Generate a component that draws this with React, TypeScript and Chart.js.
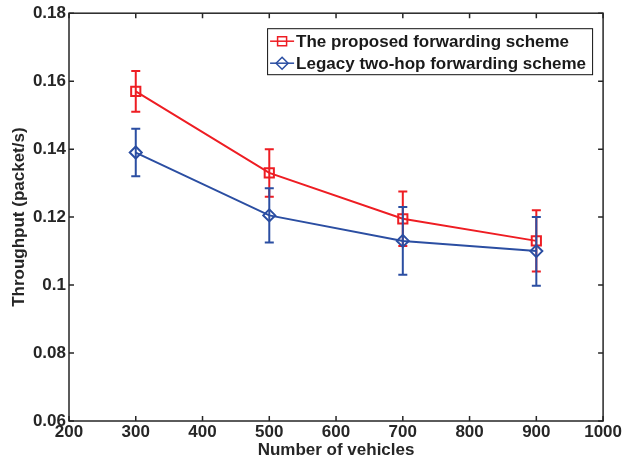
import React, { useEffect, useRef } from 'react';
import { Chart, registerables } from 'chart.js';

Chart.register(...registerables);

const vehicles = [300, 500, 700, 900];
const proposed = [0.157, 0.133, 0.1195, 0.113];
const proposedLow = [0.151, 0.126, 0.1115, 0.104];
const proposedHigh = [0.163, 0.14, 0.1275, 0.122];
const legacy = [0.139, 0.1205, 0.113, 0.11];
const legacyLow = [0.132, 0.1125, 0.103, 0.0998];
const legacyHigh = [0.146, 0.1285, 0.123, 0.12];
const xTicks = [200, 300, 400, 500, 600, 700, 800, 900, 1000];
const yTicks = [0.06, 0.08, 0.1, 0.12, 0.14, 0.16, 0.18];
const seriesNames = ['The proposed forwarding scheme', 'Legacy two-hop forwarding scheme'];

const RED = '#ee1d23';
const BLUE = '#2b4ea2';
const AXIS = '#262626';
const FONT = '"Liberation Sans", Arial, Helvetica, sans-serif';
const FS = 17;

const lows = [proposedLow, legacyLow];
const highs = [proposedHigh, legacyHigh];

const errorBarPlugin = {
  id: 'errorBars',
  afterDatasetDraw(chart: any, args: any) {
    const i = args.index;
    const ds = chart.data.datasets[i];
    const xs = chart.scales.x;
    const ys = chart.scales.y;
    const ctx = chart.ctx;
    ctx.save();
    ctx.strokeStyle = ds.borderColor;
    ctx.lineWidth = 2;
    vehicles.forEach((v, k) => {
      const x = xs.getPixelForValue(v);
      const y1 = ys.getPixelForValue(lows[i][k]);
      const y2 = ys.getPixelForValue(highs[i][k]);
      ctx.beginPath();
      ctx.moveTo(x, y1);
      ctx.lineTo(x, y2);
      ctx.moveTo(x - 4.5, y1);
      ctx.lineTo(x + 4.5, y1);
      ctx.moveTo(x - 4.5, y2);
      ctx.lineTo(x + 4.5, y2);
      ctx.stroke();
    });
    ctx.restore();
  },
};

const frameLegendPlugin = {
  id: 'frameLegend',
  afterDraw(chart: any) {
    const { ctx, chartArea } = chart;
    const { left, right, top, bottom } = chartArea;
    const xs = chart.scales.x;
    const ys = chart.scales.y;
    ctx.save();
    ctx.strokeStyle = AXIS;
    ctx.lineWidth = 1.5;
    ctx.strokeRect(left, top, right - left, bottom - top);
    const tl = 5;
    ctx.beginPath();
    xTicks.forEach((v) => {
      const x = xs.getPixelForValue(v);
      ctx.moveTo(x, bottom);
      ctx.lineTo(x, bottom - tl);
      ctx.moveTo(x, top);
      ctx.lineTo(x, top + tl);
    });
    yTicks.forEach((v) => {
      const y = ys.getPixelForValue(v);
      ctx.moveTo(left, y);
      ctx.lineTo(left + tl, y);
      ctx.moveTo(right, y);
      ctx.lineTo(right - tl, y);
    });
    ctx.stroke();

    // legend
    const bx = right - 336;
    const by = top + 15;
    const bw = 325;
    const bh = 46;
    ctx.fillStyle = '#ffffff';
    ctx.fillRect(bx, by, bw, bh);
    ctx.strokeStyle = '#111';
    ctx.lineWidth = 1;
    ctx.strokeRect(bx + 0.5, by + 0.5, bw, bh);
    ctx.font = `bold ${FS}px ${FONT}`;
    ctx.textBaseline = 'middle';
    ctx.textAlign = 'left';
    const rows = [by + 13, by + 35];
    chart.data.datasets.forEach((ds: any, i: number) => {
      const y = rows[i];
      ctx.strokeStyle = ds.borderColor;
      ctx.lineWidth = 1.5;
      ctx.beginPath();
      ctx.moveTo(bx + 3, y);
      ctx.lineTo(bx + 27, y);
      ctx.stroke();
      const cx = bx + 15;
      ctx.beginPath();
      if (i === 0) {
        ctx.rect(cx - 4.5, y - 4.5, 9, 9);
      } else {
        ctx.moveTo(cx, y - 6);
        ctx.lineTo(cx + 6, y);
        ctx.lineTo(cx, y + 6);
        ctx.lineTo(cx - 6, y);
        ctx.closePath();
      }
      ctx.stroke();
      ctx.fillStyle = '#1a1a1a';
      ctx.fillText(ds.label, bx + 29, y + 1);
    });
    ctx.restore();
  },
};

export default function App() {
  const ref = useRef<HTMLCanvasElement>(null);
  useEffect(() => {
    if (!ref.current) return;
    const chart = new Chart(ref.current, {
      type: 'line',
      data: {
        datasets: [
          {
            label: seriesNames[0],
            data: vehicles.map((v, i) => ({ x: v, y: proposed[i] })),
            borderColor: RED,
            backgroundColor: 'rgba(0,0,0,0)',
            borderWidth: 2,
            pointStyle: 'rect',
            pointRadius: 6.5,
            pointBorderWidth: 2,
            pointBackgroundColor: 'rgba(0,0,0,0)',
            pointBorderColor: RED,
            order: 1,
          },
          {
            label: seriesNames[1],
            data: vehicles.map((v, i) => ({ x: v, y: legacy[i] })),
            borderColor: BLUE,
            backgroundColor: 'rgba(0,0,0,0)',
            borderWidth: 2,
            pointStyle: 'rectRot',
            pointRadius: 6,
            pointBorderWidth: 2,
            pointBackgroundColor: 'rgba(0,0,0,0)',
            pointBorderColor: BLUE,
            order: 0,
          },
        ],
      },
      options: {
        animation: false,
        responsive: false,
        maintainAspectRatio: false,
        layout: { padding: { left: 0, right: 19, top: 12, bottom: 0 } },
        plugins: {
          legend: { display: false },
          tooltip: { enabled: false },
        },
        scales: {
          x: {
            type: 'linear',
            min: 200,
            max: 1000,
            afterFit: (s: any) => {
              s.height = 40;
            },
            afterBuildTicks: (s: any) => {
              s.ticks = xTicks.map((v) => ({ value: v }));
            },
            grid: { display: false, drawTicks: false },
            border: { display: false },
            ticks: {
              padding: 1,
              color: AXIS,
              font: { family: FONT, size: FS, weight: 'bold' },
              maxRotation: 0,
              callback: (v: any) => String(v),
            },
            title: {
              display: true,
              text: 'Number of vehicles',
              color: AXIS,
              font: { family: FONT, size: FS, weight: 'bold' },
              padding: { top: 0, bottom: 0 },
            },
          },
          y: {
            type: 'linear',
            min: 0.06,
            max: 0.18,
            afterFit: (s: any) => {
              s.width = 69;
            },
            afterBuildTicks: (s: any) => {
              s.ticks = yTicks.map((v) => ({ value: v }));
            },
            grid: { display: false, drawTicks: false },
            border: { display: false },
            ticks: {
              padding: 3,
              color: AXIS,
              font: { family: FONT, size: FS, weight: 'bold' },
              callback: (v: any) => String(Number(Number(v).toFixed(2))),
            },
            title: {
              display: true,
              text: 'Throughput (packet/s)',
              color: AXIS,
              font: { family: FONT, size: FS, weight: 'bold' },
              padding: { top: 9, bottom: 0 },
            },
          },
        },
      },
      plugins: [errorBarPlugin, frameLegendPlugin],
    });
    return () => chart.destroy();
  }, []);
  return (
    <div style={{ position: 'absolute', left: 0, top: 0, width: 623, height: 461, background: '#fff' }}>
      <canvas ref={ref} width={623} height={461} />
    </div>
  );
}
